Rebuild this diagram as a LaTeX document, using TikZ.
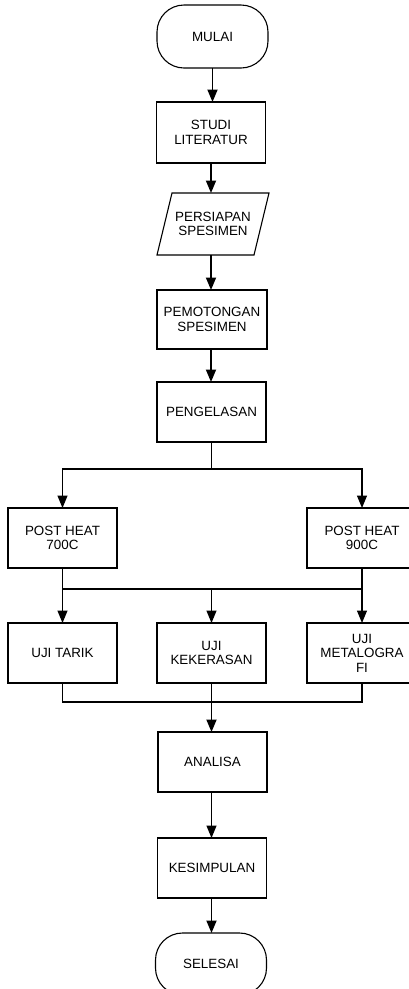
\documentclass[tikz,border=0pt]{standalone}
\usepackage{fontspec}
\setmainfont{Liberation Sans}
\usetikzlibrary{arrows.meta}
\begin{document}
\begin{tikzpicture}[x=1pt,y=-1pt,
  every node/.style={font=\fontsize{13.4}{14.6}\selectfont, align=center, inner sep=0pt, outer sep=0pt},
  box/.style={draw, line width=1.1pt, minimum width=109, minimum height=60},
  term/.style={draw, line width=1.1pt, minimum width=111, minimum height=63, rounded corners=27pt},
  arr/.style={line width=1.2pt, -{Triangle[length=12.5pt,width=10pt]}},
  thickarr/.style={line width=1.8pt, -{Triangle[length=12.5pt,width=10pt]}},
  ln/.style={line width=1.2pt}]
\useasboundingbox (0,0) rectangle (409,989);
\clip (0,0) rectangle (409,989);
\fill[white] (0,0) rectangle (409,989);

\node[term] (mulai) at (212.5,36.5) {MULAI};
\node[box, minimum height=61] (studi) at (211,132.5) {STUDI\\LITERATUR};
\node[minimum width=97, minimum height=62] (persiapan) at (213,224) {PERSIAPAN\\SPESIMEN};
\draw[line width=1.1pt] ([xshift=-7.5]persiapan.south west) -- ([xshift=7.5]persiapan.north west)
  -- ([xshift=7.5]persiapan.north east) -- ([xshift=-7.5]persiapan.south east) -- cycle;
\node[box, minimum width=110, minimum height=59] (pemotongan) at (212,319.5) {PEMOTONGAN\\SPESIMEN};
\node[box] (pengelasan) at (211.5,412) {PENGELASAN};

\node[box] (ph700) at (62.5,538) {POST HEAT\\700C};
\node[box, minimum width=110] (ph900) at (362,538) {POST HEAT\\900C};

\node[box] (tarik) at (62.5,653) {UJI TARIK};
\node[box] (keras) at (211.5,653) {UJI\\KEKERASAN};
\node[box, minimum width=110] (metal) at (362,653) {UJI\\METALOGRA\\FI};

\node[box] (analisa) at (212.5,762) {ANALISA};
\node[box] (kesimpulan) at (212,868) {KESIMPULAN};
\node[term, minimum height=62] (selesai) at (211,964) {SELESAI};

\draw[thickarr] (mulai.south) -- (mulai.south |- studi.north);
\draw[thickarr] (studi.south) -- (studi.south |- persiapan.north);
\draw[thickarr] (persiapan.south -| studi.south) -- (studi.south |- pemotongan.north);
\draw[thickarr] (studi.south |- pemotongan.south) -- (studi.south |- pengelasan.north);

\coordinate (j1) at (211.5,469);
\draw[ln] (pengelasan.south) -- (j1);
\draw[arr] (j1) -| (ph700.north);
\draw[arr] (j1) -| (ph900.north);

\coordinate (j2) at (211.5,589);
\draw[ln] (ph700.south) |- (j2);
\draw[ln] (ph900.south) |- (j2);
\draw[arr] (ph700.south |- j2) -- (tarik.north);
\draw[arr] (j2) -- (keras.north);
\draw[arr] (ph900.south |- j2) -- (metal.north);

\coordinate (j3) at (211.5,702);
\draw[ln] (tarik.south) |- (j3);
\draw[ln] (metal.south) |- (j3);
\draw[ln] (keras.south) -- (j3);
\draw[thickarr] (j3) -- (j3 |- analisa.north);

\draw[arr] (analisa.south -| j3) -- (j3 |- kesimpulan.north);
\draw[thickarr] (kesimpulan.south -| j3) -- (j3 |- selesai.north);
\end{tikzpicture}
\end{document}
